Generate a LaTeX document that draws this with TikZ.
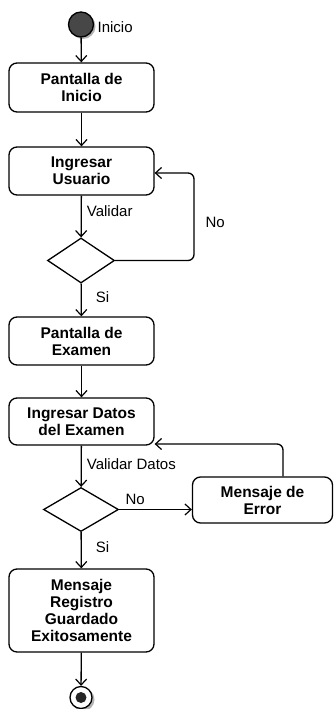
\documentclass[tikz,border=0pt]{standalone}
\usepackage{fontspec}
\setmainfont{Liberation Sans}
\usetikzlibrary{arrows.meta,shapes.geometric,calc}
\begin{document}
\begin{tikzpicture}[x=1pt,y=-1pt,
  line width=1.3pt,
  act/.style={draw, rounded corners=8pt, minimum width=145pt, align=center,
    font=\fontsize{15.5}{17}\selectfont\bfseries, inner sep=0pt},
  dec/.style={draw, diamond, inner sep=0pt},
  lbl/.style={font=\fontsize{15}{17}\selectfont, inner sep=0pt, anchor=west},
  flow/.style={-{Straight Barb[length=6pt,width=11pt,line width=1.2pt]}},
]
\useasboundingbox (0,0) rectangle (334,709);
% start
\node[circle, fill=black!30, minimum size=25pt, inner sep=0pt] at (83,26.5) {};
\node (start) [circle, draw, fill=black!72, minimum size=25pt, inner sep=0pt] at (81,24.5) {};
\node[lbl] (linicio) at (97,27) {Inicio};
% actions
\node[act, minimum height=49pt] (b1) at (81.5,87.5) {Pantalla de\\Inicio};
\node[act, minimum height=48pt] (b2) at (81.5,171) {Ingresar\\Usuario};
\node[dec, minimum width=67pt, minimum height=45pt] (d1) at (81,260.5) {};
\node[act, minimum height=48pt] (b3) at (81.5,341) {Pantalla de\\Examen};
\node[act, minimum height=47pt] (b4) at (81.5,421.5) {Ingresar Datos\\del Examen};
\node[dec, minimum width=75pt, minimum height=44pt] (d2) at (81,509.5) {};
\node[act, minimum width=140pt, minimum height=46pt] (err) at (262.5,500) {Mensaje de\\Error};
\node[act, minimum height=83pt] (b5) at (81.5,610.5) {Mensaje\\Registro\\Guardado\\Exitosamente};
% end
\node[circle, fill=black!30, minimum size=23pt, inner sep=0pt] at (83,699.5) {};
\node (endo) [circle, draw, fill=white, minimum size=22pt, inner sep=0pt] at (81,697.5) {};
\node (endi) [circle, fill=black!85, minimum size=11pt, inner sep=0pt] at (81,697.5) {};
% connectors
\draw[flow] (start) -- (b1);
\draw[flow] (b1) -- (b2);
\draw[flow] (b2) -- (d1) node[lbl, pos=0.38, xshift=5pt] (lval) {Validar};
\coordinate (c1) at (194,260.5);
\coordinate (c2) at (194,173);
\draw[flow, rounded corners=6pt] (d1.east) -- (c1) -- (c2) -- (c2 -| b2.east);
\node[lbl] (lno1) at (205,222) {No};
\draw[flow] (d1) -- (b3) node[lbl, pos=0.42, xshift=14pt] (lsi1) {Si};
\draw[flow] (b3) -- (b4);
\draw[flow] (b4) -- (d2) node[lbl, pos=0.45, xshift=5pt] (lvd) {Validar Datos};
\draw[flow] (d2.east) -- (d2.east -| err.west);
\node[lbl] (lno2) at (125,499) {No};
\coordinate (c3) at (283,444);
\draw[flow, rounded corners=6pt] (c3 |- err.north) -- (c3) -- (c3 -| b4.east);
\draw[flow] (d2) -- (b5) node[lbl, pos=0.42, xshift=14pt] (lsi2) {Si};
\draw[flow] (b5) -- (endo);
\end{tikzpicture}
\end{document}
